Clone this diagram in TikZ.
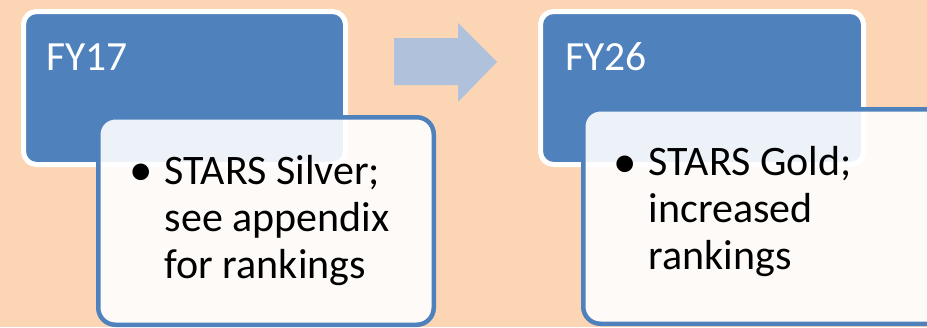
\documentclass[tikz,border=0pt]{standalone}
\usepackage{fontspec}
\setmainfont{Carlito}
\definecolor{peach}{RGB}{252,213,181}
\definecolor{accblue}{RGB}{79,129,189}
\definecolor{arrowblue}{RGB}{176,193,220}
\tikzset{
  yearbox/.style={draw=white, line width=5pt, fill=accblue, rounded corners=13pt},
  detailbox/.style={draw=accblue, line width=4.5pt, fill=white, fill opacity=0.9, draw opacity=1, rounded corners=17pt},
  yeartext/.style={anchor=base west, inner sep=0pt, text=white, font=\fontsize{41.5}{47}\selectfont},
  itemtext/.style={anchor=base west, inner sep=0pt, text=black, font=\fontsize{42}{47}\selectfont},
  bullettext/.style={anchor=base west, inner sep=0pt, text=black, font=\fontsize{47}{47}\selectfont},
}
\begin{document}
\begin{tikzpicture}[x=1pt,y=-1pt]
\useasboundingbox (0,0) rectangle (927,327);
\fill[peach] (0,0) rectangle (927,327);
% left group
\draw[yearbox] (23.5,11.5) rectangle (345.5,164.5);
\node[yeartext] (fy17) at (46,70.7) {FY17};
\draw[detailbox] (98.25,117.25) rectangle (433.75,324.75);
\node[bullettext] (b1) at (129,185.5) {•};
\node[itemtext] (t1) at (164.5,184) {\begin{tabular}[t]{@{}l@{}}STARS Silver;\\see appendix\\for rankings\end{tabular}};
% arrow
\fill[arrowblue] (394,38) -- (458,38) -- (458,23) -- (497,62) -- (458,102) -- (458,85) -- (394,85) -- cycle;
% right group
\draw[yearbox] (540.5,11.5) rectangle (863.5,164.5);
\node[yeartext] (fy26) at (565,70.7) {FY26};
\draw[detailbox] (583.25,109.25) rectangle (960,323.75);
\node[bullettext] (b2) at (613,177) {•};
\node[itemtext] (t2) at (648.5,175.5) {\begin{tabular}[t]{@{}l@{}}STARS Gold;\\increased\\rankings\end{tabular}};
\end{tikzpicture}
\end{document}
